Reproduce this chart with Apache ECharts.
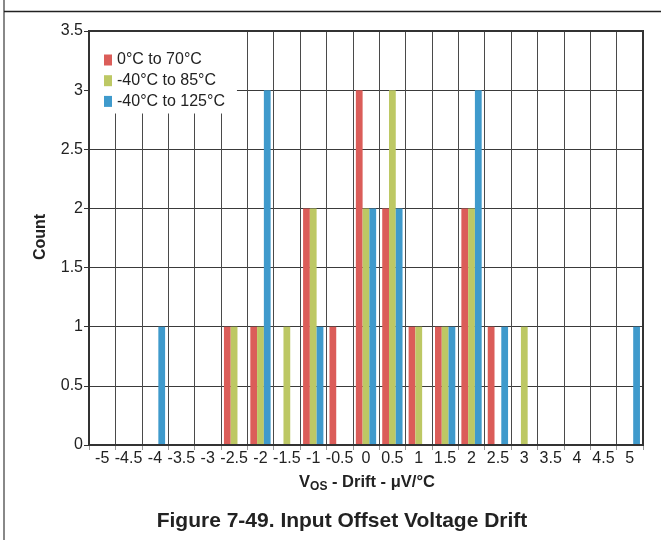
<!DOCTYPE html>
<html><head><meta charset="utf-8">
<script src="https://cdn.jsdelivr.net/npm/echarts@6/dist/echarts.min.js"></script>
<style>html,body{margin:0;padding:0;background:#fff}#c{width:661px;height:540px}</style>
</head><body><div id="c"></div>
<script>
const categories = ['-5','-4.5','-4','-3.5','-3','-2.5','-2','-1.5','-1','-0.5','0','0.5','1','1.5','2','2.5','3','3.5','4','4.5','5'];
const seriesNames = ['0°C to 70°C','-40°C to 85°C','-40°C to 125°C'];
const red = [0,0,0,0,0,1,1,0,2,1,3,2,1,1,2,1,0,0,0,0,0];
const green = [0,0,0,0,0,1,1,1,2,0,2,3,1,1,2,0,1,0,0,0,0];
const blue = [0,0,1,0,0,0,3,0,1,0,2,2,0,1,3,1,0,0,0,0,1];
const colors = ['#DB5D59','#BDC864','#3F9ACC'];
const FONT = '"Liberation Sans", Arial, sans-serif';

const chart = echarts.init(document.getElementById('c'), null, {renderer:'canvas'});
const mk = (name, data, color) => ({
  name, type:'bar', data, barGap:'0%', barCategoryGap:'23%',
  itemStyle:{color}, emphasis:{disabled:true}, z:3
});
chart.setOption({
  animation:false,
  textStyle:{fontFamily:FONT},
  grid:{left:89, right:18, top:31, bottom:95, show:true, borderColor:'#333', borderWidth:2, backgroundColor:'transparent', z:4},
  legend:{
    orient:'vertical', left:90, top:32, padding:[20,12,4,14],
    backgroundColor:'#fff', itemWidth:8, itemHeight:11, itemGap:4.7,
    textStyle:{fontSize:16, color:'#222', fontFamily:FONT, lineHeight:14},
    icon:'rect', data:seriesNames, z:5, selectedMode:false
  },
  xAxis:{
    type:'category', data:categories, boundaryGap:true,
    axisLine:{show:true, lineStyle:{color:'#333', width:2}},
    axisTick:{show:true, length:5, lineStyle:{color:'#999'}, alignWithLabel:false},
    axisLabel:{fontSize:16, color:'#222', margin:6, interval:0, fontFamily:FONT},
    splitLine:{show:true, interval:0, lineStyle:{color:'#4a4a4a', width:1}}
  },
  yAxis:{
    type:'value', min:0, max:3.5, interval:0.5,
    axisLine:{show:true, lineStyle:{color:'#333', width:1}},
    axisTick:{show:true, length:5, lineStyle:{color:'#333'}},
    axisLabel:{fontSize:16, color:'#222', margin:6, fontFamily:FONT},
    splitLine:{show:true, lineStyle:{color:'#3a3a3a', width:1}}
  },
  series:[mk(seriesNames[0], red, colors[0]), mk(seriesNames[1], green, colors[1]), mk(seriesNames[2], blue, colors[2])],
  graphic:[
    {type:'line', shape:{x1:4, y1:0, x2:4, y2:540}, style:{stroke:'#888', lineWidth:2}},
    {type:'line', shape:{x1:4, y1:11.5, x2:661, y2:11.5}, style:{stroke:'#222', lineWidth:1.5}},
    {type:'text', x:367, y:482, style:{
      text:'{n|V}{s|OS}{n| - Drift - μV/°C}', align:'center', verticalAlign:'middle',
      rich:{n:{fontSize:16.5, fontWeight:'bold', fill:'#222', fontFamily:FONT}, s:{fontSize:12, fontWeight:'bold', fill:'#222', fontFamily:FONT, padding:[9,0,0,0]}}
    }},
    {type:'text', rotation:Math.PI/2, x:41, y:237, style:{text:'Count', fontSize:16, fontWeight:'bold', fill:'#222', fontFamily:FONT, align:'center', verticalAlign:'middle'}},
    {type:'text', x:342, y:521, style:{text:'Figure 7-49. Input Offset Voltage Drift', fontSize:21, fontWeight:'bold', fill:'#222', fontFamily:FONT, align:'center', verticalAlign:'middle'}}
  ]
});
</script></body></html>
